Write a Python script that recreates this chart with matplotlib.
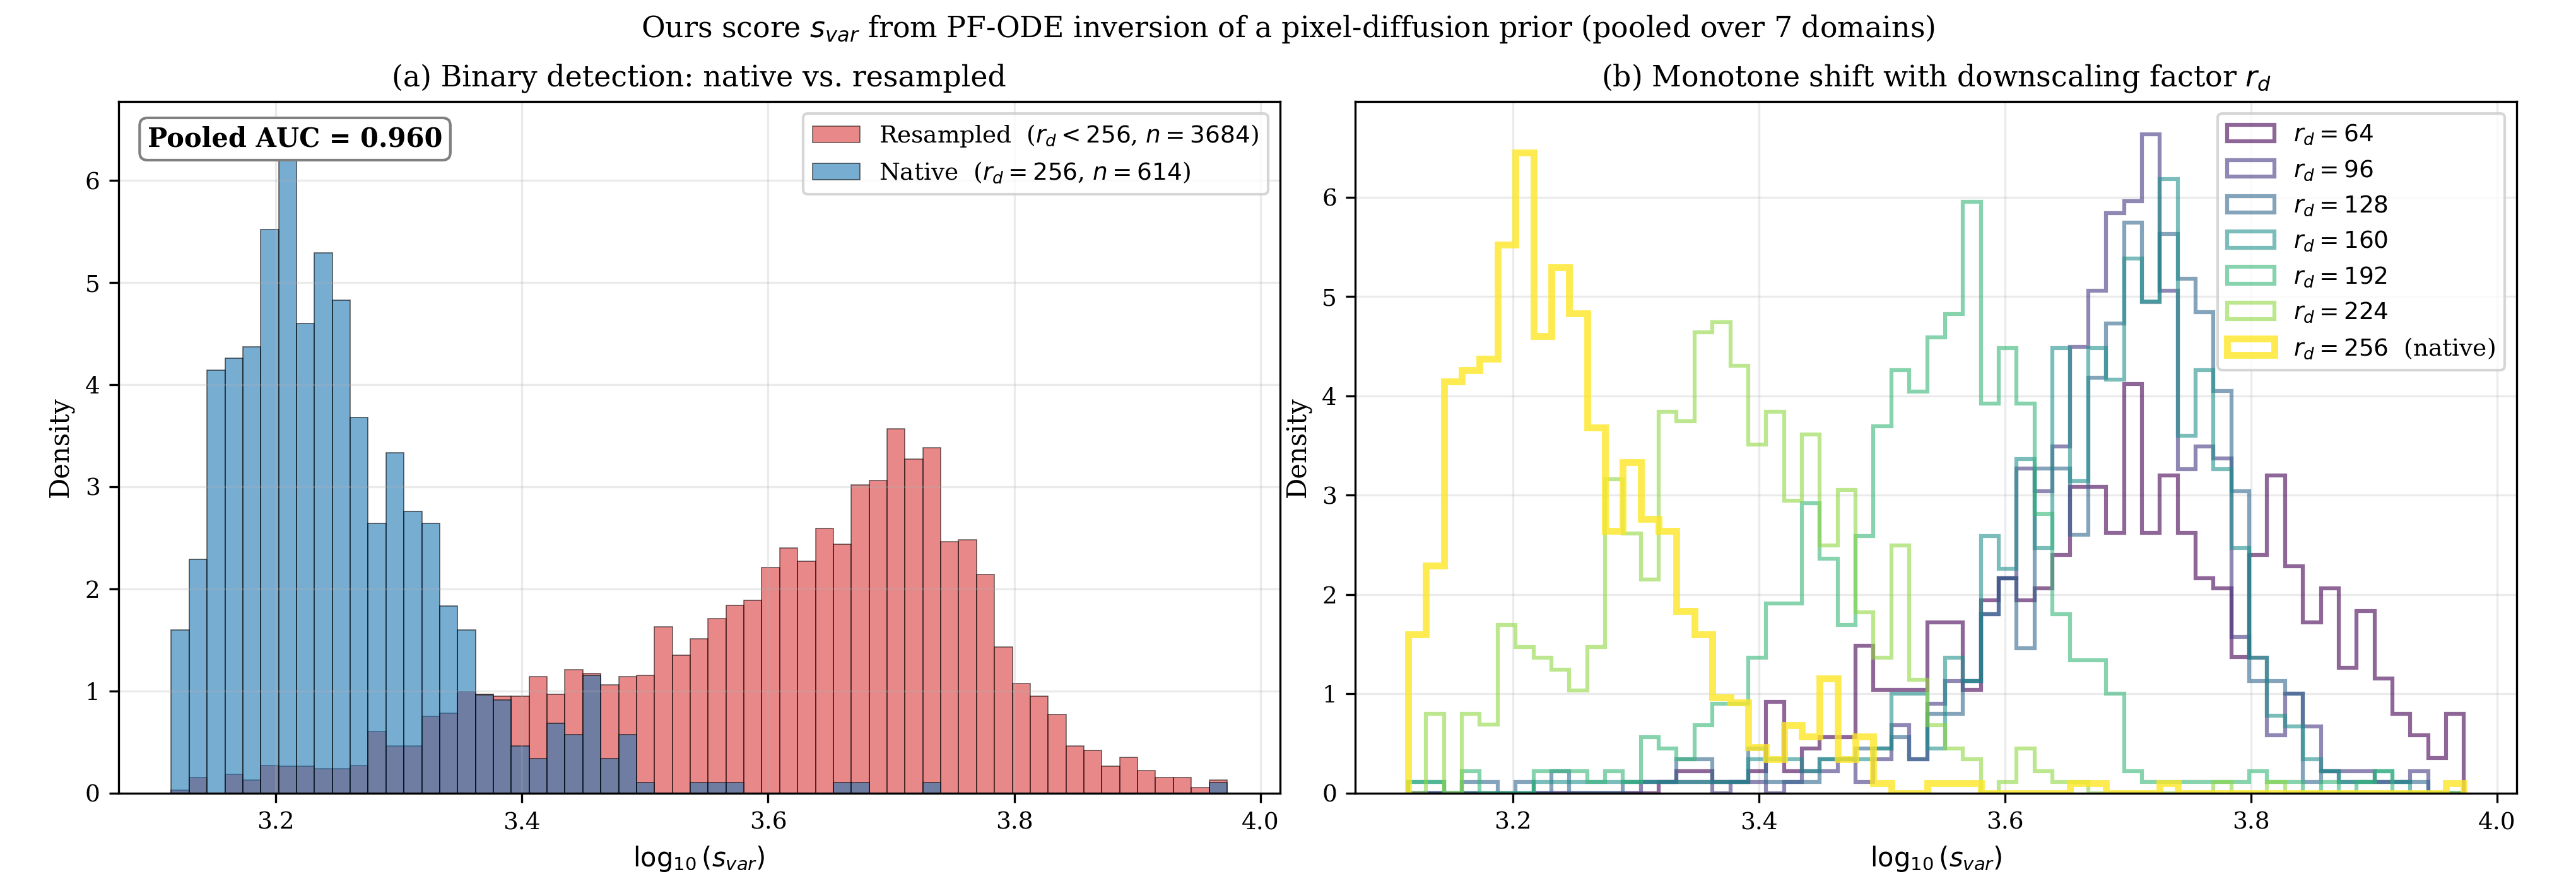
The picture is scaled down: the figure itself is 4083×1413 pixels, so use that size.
import matplotlib

matplotlib.use("Agg")
import matplotlib.pyplot as plt  # noqa: E402
import numpy as np  # noqa: E402

plt.rcParams["font.family"] = "DejaVu Serif"

# shared bin grid in log10(s_var)
bin_lo, bin_hi, n_bins = 3.115, 3.973, 59

# densities per bin
native = [1.60, 2.29, 4.14, 4.26, 4.37, 5.52, 6.45, 4.60, 5.29, 4.83,
          3.68, 2.64, 3.33, 2.76, 2.64, 1.83, 1.60, 0.96, 0.91, 0.46,
          0.34, 0.68, 0.57, 1.15, 0.34, 0.57, 0.10, 0.0, 0.0, 0.10,
          0.10, 0.10, 0.0, 0.0, 0.0, 0.0, 0.0, 0.10, 0.10, 0.0,
          0.0, 0.0, 0.10, 0.0, 0.0, 0.0, 0.0, 0.0, 0.0, 0.0,
          0.0, 0.0, 0.0, 0.0, 0.0, 0.0, 0.0, 0.0, 0.10]
resampled = [0.03, 0.15, 0.0, 0.18, 0.13, 0.27, 0.26, 0.26, 0.24, 0.24,
             0.27, 0.60, 0.46, 0.46, 0.75, 0.78, 0.99, 0.97, 0.95, 0.95,
             1.14, 0.97, 1.21, 1.17, 1.06, 1.14, 1.15, 1.63, 1.35, 1.51,
             1.71, 1.84, 1.89, 2.21, 2.40, 2.27, 2.59, 2.44, 3.02, 3.06,
             3.57, 3.27, 3.38, 2.46, 2.48, 2.14, 1.43, 1.07, 0.95, 0.77,
             0.46, 0.42, 0.26, 0.35, 0.22, 0.15, 0.15, 0.05, 0.13]

rd_64 = [0.0, 0.0, 0.0, 0.0, 0.0, 0.0, 0.0, 0.0, 0.0, 0.0,
         0.0, 0.0, 0.0, 0.0, 0.11, 0.22, 0.22, 0.11, 0.11, 0.22,
         0.92, 0.22, 0.45, 0.56, 0.56, 1.48, 1.04, 1.04, 1.04, 1.72,
         1.72, 1.04, 1.94, 2.16, 1.94, 2.06, 2.40, 3.08, 3.08, 2.62,
         4.12, 2.62, 3.20, 2.62, 2.16, 2.06, 1.37, 2.40, 3.20, 2.28,
         1.72, 2.06, 1.26, 1.83, 1.15, 0.80, 0.58, 0.35, 0.80]
rd_96 = [0.0, 0.0, 0.0, 0.0, 0.0, 0.0, 0.0, 0.0, 0.0, 0.0,
         0.0, 0.0, 0.0, 0.11, 0.11, 0.11, 0.11, 0.0, 0.11, 0.11,
         0.0, 0.11, 0.22, 0.22, 0.34, 0.11, 0.34, 0.68, 0.34, 0.90,
         1.13, 1.13, 1.80, 2.16, 3.27, 3.04, 3.49, 4.49, 5.06, 5.84,
         5.96, 6.63, 5.06, 3.26, 3.49, 3.37, 1.57, 1.36, 0.58, 1.00,
         0.67, 0.22, 0.22, 0.22, 0.11, 0.11, 0.22, 0.0, 0.0]
rd_128 = [0.0, 0.0, 0.0, 0.11, 0.11, 0.0, 0.11, 0.0, 0.22, 0.0,
          0.0, 0.0, 0.11, 0.11, 0.11, 0.34, 0.34, 0.11, 0.11, 0.45,
          0.11, 0.11, 0.11, 0.34, 0.34, 0.45, 0.45, 0.56, 0.34, 0.80,
          0.80, 1.13, 1.80, 2.16, 1.46, 3.27, 3.27, 2.60, 4.18, 4.73,
          5.74, 4.94, 5.63, 5.18, 4.84, 4.05, 3.04, 1.13, 1.13, 1.00,
          0.11, 0.22, 0.11, 0.11, 0.11, 0.11, 0.11, 0.0, 0.0]
rd_160 = [0.11, 0.11, 0.0, 0.0, 0.0, 0.0, 0.0, 0.11, 0.11, 0.11,
          0.11, 0.11, 0.11, 0.11, 0.11, 0.11, 0.11, 0.11, 0.11, 0.34,
          0.34, 0.34, 0.22, 0.34, 0.34, 0.34, 0.45, 1.00, 1.00, 0.45,
          1.36, 1.13, 2.59, 2.26, 3.36, 2.47, 4.48, 3.14, 4.48, 4.16,
          5.38, 4.95, 6.18, 3.60, 4.26, 3.26, 2.47, 1.36, 0.78, 0.67,
          0.34, 0.22, 0.11, 0.11, 0.22, 0.11, 0.0, 0.0, 0.0]
rd_192 = [0.11, 0.11, 0.0, 0.22, 0.0, 0.0, 0.0, 0.22, 0.22, 0.22,
          0.11, 0.22, 0.11, 0.56, 0.45, 0.34, 0.68, 0.90, 0.90, 1.36,
          1.91, 1.91, 2.92, 2.36, 1.69, 2.59, 3.69, 4.26, 4.04, 4.59,
          4.82, 5.95, 3.92, 4.48, 3.92, 2.81, 1.80, 1.34, 1.34, 1.00,
          0.22, 0.11, 0.11, 0.11, 0.11, 0.11, 0.11, 0.22, 0.11, 0.11,
          0.0, 0.11, 0.0, 0.11, 0.22, 0.0, 0.0, 0.0, 0.0]
rd_224 = [0.0, 0.80, 0.0, 0.80, 0.69, 1.69, 1.47, 1.36, 1.24, 1.03,
          1.47, 3.16, 2.61, 2.15, 3.84, 3.74, 4.64, 4.74, 4.30, 3.51,
          3.84, 2.94, 3.61, 2.49, 3.05, 1.82, 1.36, 2.49, 1.14, 0.68,
          0.45, 0.34, 0.0, 0.11, 0.45, 0.22, 0.11, 0.11, 0.0, 0.0,
          0.0, 0.0, 0.0, 0.0, 0.0, 0.11, 0.0, 0.0, 0.11, 0.0,
          0.0, 0.0, 0.0, 0.0, 0.0, 0.0, 0.0, 0.0, 0.0]

factors = [64, 96, 128, 160, 192, 224, 256]
per_factor = [rd_64, rd_96, rd_128, rd_160, rd_192, rd_224, native]
n_resampled, n_native = 3684, 614
auc = 0.960

edges = np.linspace(bin_lo, bin_hi, n_bins + 1)
centers = 0.5 * (edges[:-1] + edges[1:])

fig, (ax_a, ax_b) = plt.subplots(1, 2, figsize=(13.61, 4.71), dpi=300)
fig.subplots_adjust(left=0.046, right=0.977, bottom=0.11, top=0.886, wspace=0.065)

ax_a.hist(centers, bins=edges, weights=resampled, color="tab:red", alpha=0.55,
          edgecolor="black", linewidth=0.4,
          label=rf"Resampled  ($r_d < 256$, $n = {n_resampled}$)")
ax_a.hist(centers, bins=edges, weights=native, color="tab:blue", alpha=0.6,
          edgecolor="black", linewidth=0.4,
          label=rf"Native  ($r_d = 256$, $n = {n_native}$)")
ax_a.text(0.025, 0.965, f"Pooled AUC = {auc:.3f}", transform=ax_a.transAxes,
          fontsize=10, fontweight="bold", va="top",
          bbox=dict(boxstyle="round,pad=0.3", facecolor="white", edgecolor="gray"))
ax_a.set_title("(a) Binary detection: native vs. resampled", fontsize=11)
ax_a.set_xlabel(r"$\log_{10}(s_{var})$", fontsize=10)
ax_a.set_ylabel("Density", fontsize=10)
ax_a.legend(loc="upper right", fontsize=9)
ax_a.grid(alpha=0.25)

colors = plt.cm.viridis(np.linspace(0, 1, len(factors)))
for rd, dens, col in zip(factors, per_factor, colors):
    if rd == 256:
        ax_b.hist(centers, bins=edges, weights=dens, histtype="step", color=col,
                  linewidth=2.6, alpha=0.8, label=rf"$r_d = {rd}$  (native)")
    else:
        ax_b.hist(centers, bins=edges, weights=dens, histtype="step", color=col,
                  linewidth=1.5, alpha=0.6, label=rf"$r_d = {rd}$")
ax_b.set_title(r"(b) Monotone shift with downscaling factor $r_d$", fontsize=11)
ax_b.set_xlabel(r"$\log_{10}(s_{var})$", fontsize=10)
ax_b.set_ylabel("Density", fontsize=10)
ax_b.legend(loc="upper right", fontsize=9)
ax_b.grid(alpha=0.25)

for ax in (ax_a, ax_b):
    ax.tick_params(labelsize=9)
    ax.set_xticks([3.2, 3.4, 3.6, 3.8, 4.0])

fig.suptitle(r"Ours score $s_{var}$ from PF-ODE inversion of a pixel-diffusion prior "
             r"(pooled over 7 domains)", fontsize=11, y=0.985)
fig.savefig("out.png", dpi=300)
plt.close(fig)
